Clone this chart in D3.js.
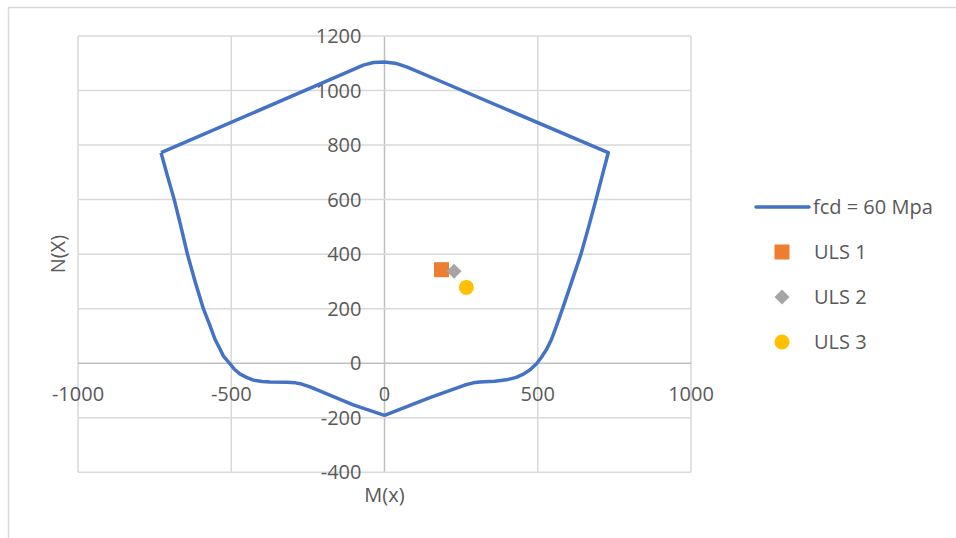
<!DOCTYPE html>
<html>
<head>
<meta charset="utf-8">
<script src="https://cdn.jsdelivr.net/npm/d3@7"></script>
<style>
  html, body { margin: 0; padding: 0; background: #fff; }
  svg { display: block; }
  text { font-family: "Open Sans", "Noto Sans", sans-serif; fill: #595959; }
</style>
</head>
<body>
<svg id="chart" width="956" height="538"></svg>
<script>
// ---- Data ----
const seriesName = "fcd = 60 Mpa";
const curveM = [-729, -708, -686, -664, -643, -618, -591, -570, -553, -538, -526, -506, -490, -471, -450, -428, -400, -373, -319, -290, -275, -243, -102, 0, 148, 262, 290, 311, 360, 398, 430, 453, 475, 496, 512, 529, 545, 562, 581, 611, 641, 666, 690, 710, 730, 181, 72, 40, 0, -36, -69, -178, -729];
const curveN = [772, 686, 600, 500, 400, 300, 200, 140, 88, 55, 27, 0, -22, -40, -52, -62, -67, -69, -70, -72, -75, -87, -153, -191, -126, -80, -72, -69, -66, -61, -52, -40, -24, -2, 22, 51, 88, 140, 200, 300, 400, 500, 600, 686, 772, 1035, 1087, 1099, 1105, 1103, 1093, 1040, 772];
const ulsNames = ["ULS 1", "ULS 2", "ULS 3"];
const ulsM = [186, 227, 267];
const ulsN = [343, 337, 278];
const xTicks = [-1000, -500, 0, 500, 1000];
const yTicks = [-400, -200, 0, 200, 400, 600, 800, 1000, 1200];
const xTitle = "M(x)";
const yTitle = "N(X)";

// ---- Styles ----
const lineColor = "#4472C4";
const ulsColors = ["#ED7D31", "#A5A5A5", "#FFC000"];
const ulsShapes = ["square", "diamond", "circle"];

const svg = d3.select("#chart");

// chart frame (partially visible)
svg.append("rect")
  .attr("x", 8.5).attr("y", 7.5)
  .attr("width", 1000).attr("height", 600)
  .attr("fill", "#fff").attr("stroke", "#d9d9d9").attr("stroke-width", 1.5);

const x = d3.scaleLinear().domain([-1000, 1000]).range([78, 691]);
const y = d3.scaleLinear().domain([-400, 1200]).range([472.3, 36]);

// gridlines
const g = svg.append("g");
g.selectAll(".vg").data(xTicks).join("line")
  .attr("x1", d => x(d)).attr("x2", d => x(d))
  .attr("y1", y(1200)).attr("y2", y(-400))
  .attr("stroke", d => d === 0 ? "#bfbfbf" : "#d9d9d9")
  .attr("stroke-width", 1.5);
g.selectAll(".hg").data(yTicks).join("line")
  .attr("y1", d => y(d)).attr("y2", d => y(d))
  .attr("x1", x(-1000)).attr("x2", x(1000))
  .attr("stroke", d => d === 0 ? "#bfbfbf" : "#d9d9d9")
  .attr("stroke-width", 1.5);

// y tick labels (right aligned next to the M=0 axis)
g.selectAll(".yl").data(yTicks).join("text")
  .attr("x", x(0) - 23)
  .attr("y", d => y(d))
  .attr("dy", "0.35em")
  .attr("text-anchor", "end")
  .attr("font-size", 20)
  .text(d => d);

// x tick labels below N=0 axis
g.selectAll(".xl").data(xTicks).join("text")
  .attr("x", d => x(d))
  .attr("y", y(0) + 38)
  .attr("text-anchor", "middle")
  .attr("font-size", 20)
  .text(d => d);

// axis titles
svg.append("text")
  .attr("x", x(0)).attr("y", 502)
  .attr("text-anchor", "middle").attr("font-size", 20)
  .text(xTitle);
svg.append("text")
  .attr("transform", `translate(65,${(y(1200) + y(-400)) / 2}) rotate(-90)`)
  .attr("text-anchor", "middle").attr("font-size", 20)
  .text(yTitle);

// interaction curve
const pts = curveM.map((m, i) => [m, curveN[i]]);
const line = d3.line().x(d => x(d[0])).y(d => y(d[1])).curve(d3.curveLinear);
svg.append("path")
  .attr("d", line(pts))
  .attr("fill", "none")
  .attr("stroke", lineColor)
  .attr("stroke-width", 3.5)
  .attr("stroke-linejoin", "round");

// marker helper
function marker(sel, shape, color) {
  if (shape === "square") {
    sel.append("rect").attr("x", -7.5).attr("y", -7.5).attr("width", 15).attr("height", 15).attr("fill", color);
  } else if (shape === "diamond") {
    sel.append("rect").attr("x", -5.3).attr("y", -5.3).attr("width", 10.6).attr("height", 10.6)
      .attr("transform", "rotate(45)").attr("fill", color);
  } else {
    sel.append("circle").attr("r", 7.5).attr("fill", color);
  }
}

ulsM.forEach((m, i) => {
  const mg = svg.append("g").attr("transform", `translate(${x(m)},${y(ulsN[i])})`);
  marker(mg, ulsShapes[i], ulsColors[i]);
});

// legend
const leg = svg.append("g");
leg.append("line").attr("x1", 756).attr("x2", 809).attr("y1", 207).attr("y2", 207)
  .attr("stroke", lineColor).attr("stroke-width", 3.5).attr("stroke-linecap", "round");
leg.append("text").attr("x", 813).attr("y", 207).attr("dy", "0.35em")
  .attr("font-size", 20).text(seriesName);
ulsNames.forEach((name, i) => {
  const ly = 252 + i * 45;
  const mg = leg.append("g").attr("transform", `translate(782,${ly})`);
  marker(mg, ulsShapes[i], ulsColors[i]);
  leg.append("text").attr("x", 814).attr("y", ly).attr("dy", "0.35em")
    .attr("font-size", 20).text(name);
});
</script>
</body>
</html>
